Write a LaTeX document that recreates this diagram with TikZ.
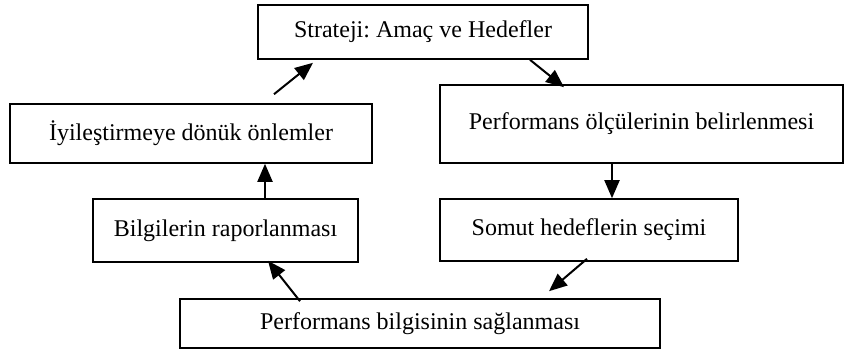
\documentclass[tikz,border=0pt]{standalone}
\usepackage{fontspec}
\setmainfont{Liberation Serif}
\usepackage{tikz}
\usetikzlibrary{arrows.meta,positioning,calc}
\frenchspacing

\begin{document}
\begin{tikzpicture}[
    x=0.5pt, y=-0.5pt,
    box/.style={rectangle, draw=black, line width=0.8pt, fill=white,
                font=\fontsize{12}{14}\selectfont, inner sep=0pt},
    arrow/.style={-{Triangle[length=9pt,width=7.5pt]}, line width=1pt, black}
]

\useasboundingbox (0,0) rectangle (844,349);

\node[box, minimum width=165pt, minimum height=27pt] (strat) at (423,32) {Strateji: Amaç ve Hedefler};

\node[box, minimum width=181pt, minimum height=29.5pt] (iyi) at (191,133.5) {İyileştirmeye dönük önlemler};

\node[box, minimum width=201.5pt, minimum height=39pt] (olcu) at (641.5,124) {Performans ölçülerinin belirlenmesi};

\node[box, minimum width=132.5pt, minimum height=31.5pt] (rapor) at (225.5,230.5) {Bilgilerin raporlanması};

\node[box, minimum width=149pt, minimum height=31pt] (somut) at (589,230) {Somut hedeflerin seçimi};

\node[box, minimum width=240pt, minimum height=24.5pt] (bilgi) at (420,323.5) {Performans bilgisinin sağlanması};

\draw[arrow] ($(iyi.north)+(83,-9)$) -- ($(strat.south)+(-110,3)$);
\draw[arrow] ($(strat.south)+(107,0)$) -- ($(olcu.north)+(-77.5,3)$);
\draw[arrow] ($(olcu.south)+(-29.5,0)$) -- ($(somut.north)+(23,0)$);
\draw[arrow] ($(somut.south)+(-2,-3)$) -- ($(bilgi.north)+(129,-7)$);
\draw[arrow] ($(bilgi.north)+(-120,3)$) -- ($(rapor.south)+(42.5,-2)$);
\draw[arrow] ($(rapor.north)+(39.5,0)$) -- ($(iyi.south)+(74,0)$);

\end{tikzpicture}
\end{document}
